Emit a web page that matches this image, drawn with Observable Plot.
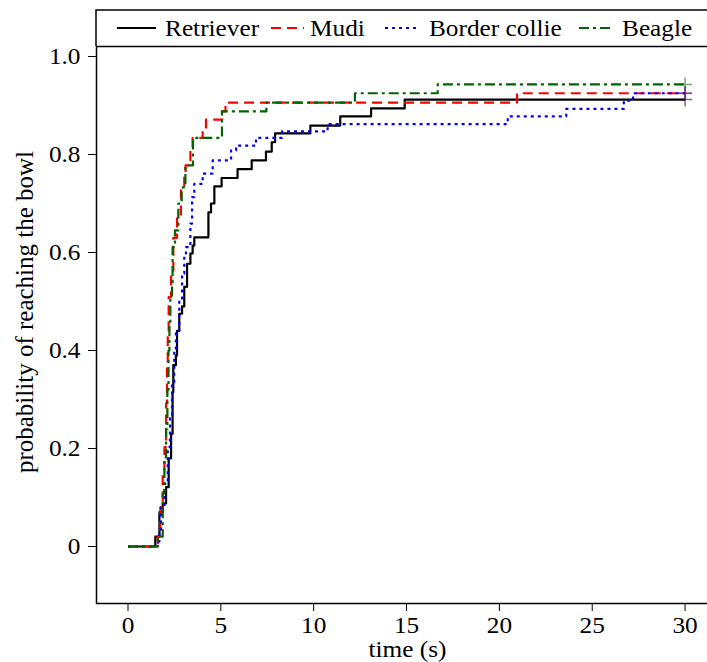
<!DOCTYPE html>
<html><head><meta charset="utf-8">
<script src="https://cdn.jsdelivr.net/npm/d3@7"></script>
<script src="https://cdn.jsdelivr.net/npm/@observablehq/plot@0.6"></script>
<style>
html,body{margin:0;padding:0;background:#fff;overflow:hidden;width:707px;height:662px;}
#wrap{position:relative;width:707px;height:662px;overflow:hidden;}
#legend{position:absolute;left:90px;top:4px;}
#chart{position:absolute;left:0;top:40px;width:707px;overflow:hidden;}
</style></head>
<body><div id="wrap"><div id="chart"></div></div>
<script>
// ---- data ----
const breeds = ["Retriever", "Mudi", "Border collie", "Beagle"];
const colors = ["#000000", "#ff0000", "#0000ff", "#006400"];
const dashes = ["none", "10,6", "3,4", "10,4,3,4"];

const xTicks = [0, 5, 10, 15, 20, 25, 30];
const xTickLabels = ["0", "5", "10", "15", "20", "25", "30"];
const yTicks = [0, 0.2, 0.4, 0.6, 0.8, 1.0];
const yTickLabels = ["0", "0.2", "0.4", "0.6", "0.8", "1.0"];

const retrieverTime = [0, 1.47, 1.69, 1.87, 2.05, 2.19, 2.32, 2.40, 2.44, 2.58, 2.64, 2.76, 2.91, 3.03, 3.18, 3.36, 3.48, 3.57, 4.33, 4.47, 4.65, 5.04, 5.90, 6.66, 7.43, 7.74, 7.92, 9.82, 11.43, 13.09, 14.90, 30];
const retrieverProb = [0, 0.020, 0.070, 0.088, 0.121, 0.180, 0.230, 0.315, 0.370, 0.390, 0.440, 0.475, 0.490, 0.530, 0.577, 0.598, 0.614, 0.631, 0.682, 0.700, 0.735, 0.752, 0.770, 0.788, 0.806, 0.825, 0.843, 0.859, 0.878, 0.894, 0.912, 0.912];

const mudiTime = [0, 1.60, 1.74, 1.87, 1.96, 2.05, 2.10, 2.14, 2.19, 2.32, 2.44, 2.64, 2.85, 3.03, 3.10, 3.36, 3.48, 4.02, 4.20, 5.06, 5.25, 20.95, 30];
const mudiProb = [0, 0.020, 0.080, 0.155, 0.203, 0.292, 0.366, 0.434, 0.509, 0.563, 0.630, 0.672, 0.727, 0.764, 0.778, 0.812, 0.834, 0.851, 0.871, 0.888, 0.906, 0.925, 0.925];

const collieTime = [0, 1.60, 1.69, 1.78, 1.96, 2.14, 2.26, 2.37, 2.49, 2.58, 2.76, 2.91, 3.03, 3.12, 3.36, 3.45, 3.57, 4.02, 4.56, 5.55, 5.82, 6.89, 8.30, 10.75, 20.45, 23.60, 26.70, 27.20, 30];
const collieProb = [0, 0.010, 0.030, 0.080, 0.128, 0.203, 0.264, 0.333, 0.400, 0.440, 0.502, 0.557, 0.598, 0.611, 0.659, 0.713, 0.740, 0.761, 0.788, 0.808, 0.818, 0.834, 0.847, 0.862, 0.878, 0.893, 0.910, 0.925, 0.925];

const beagleTime = [0, 1.60, 1.87, 1.96, 2.05, 2.12, 2.18, 2.23, 2.28, 2.37, 2.40, 2.53, 2.71, 2.89, 3.09, 3.50, 5.06, 7.45, 12.22, 16.68, 30];
const beagleProb = [0, 0.020, 0.108, 0.182, 0.240, 0.320, 0.400, 0.455, 0.510, 0.536, 0.611, 0.645, 0.700, 0.733, 0.778, 0.834, 0.888, 0.906, 0.925, 0.943, 0.943];

// ---- build tables ----
const series = [
  {name: breeds[0], time: retrieverTime, prob: retrieverProb},
  {name: breeds[1], time: mudiTime, prob: mudiProb},
  {name: breeds[2], time: collieTime, prob: collieProb},
  {name: breeds[3], time: beagleTime, prob: beagleProb}
];
const tables = series.map(s => s.time.map((t, i) => ({breed: s.name, time: t, prob: s.prob[i]})));
const lastPoints = tables.map(tb => [tb[tb.length - 1]]);

const FONT = "'Liberation Serif', serif";
const FS = 23;
const STRETCH = 1.1;

const plusSymbol = {
  draw(ctx, size) {
    const a = Math.sqrt(size / Math.PI);
    ctx.moveTo(-a, 0); ctx.lineTo(a, 0);
    ctx.moveTo(0, -a); ctx.lineTo(0, a);
  }
};

const plot = Plot.plot({
  width: 707,
  height: 622,
  marginLeft: 96,
  marginRight: -11,
  marginTop: 6,
  marginBottom: 59,
  style: {fontFamily: FONT, fontSize: FS + "px", color: "#000", background: "transparent", overflow: "hidden"},
  x: {domain: [-1.697, 31.80]},
  y: {domain: [-0.1163, 1.0204]},
  marks: [
    Plot.frame({stroke: "#000", strokeWidth: 1.5}),
    Plot.axisX({ticks: xTicks, tickSize: 8, tickPadding: 5, tickFormat: d => xTickLabels[xTicks.indexOf(d)],
      label: "time (s)", labelAnchor: "center", labelOffset: 53, labelArrow: "none", fontSize: FS, strokeWidth: 1}),
    Plot.axisY({ticks: yTicks, tickSize: 8, tickPadding: 8, tickFormat: d => yTickLabels[yTicks.indexOf(d)],
      label: "probability of reaching the bowl", labelAnchor: "center", labelOffset: 82, labelArrow: "none", fontSize: FS, strokeWidth: 1}),
    ...tables.map((tb, i) => Plot.line(tb, {x: "time", y: "prob", curve: "step-after",
      stroke: colors[i], strokeWidth: 2.2, strokeDasharray: dashes[i], strokeLinecap: "butt"})),
    ...lastPoints.map((lp, i) => Plot.dot(lp, {x: "time", y: "prob", symbol: plusSymbol, r: 7,
      fill: "none", stroke: colors[i], strokeOpacity: 0.55, strokeWidth: 1.5}))
  ]
});
document.getElementById("chart").appendChild(plot);

// ---- legend (above the svg; its bottom edge is the frame top) ----
const legendItems = [
  {sx1: 117, sx2: 156, tx: 165},
  {sx1: 271, sx2: 304, tx: 310},
  {sx1: 385, sx2: 417, tx: 429},
  {sx1: 579, sx2: 614, tx: 622}
];
const ox = 90, oy = 4;
const lg = d3.select("#wrap").append("svg").attr("id", "legend")
  .attr("width", 707 - ox).attr("height", 44)
  .style("font-family", FONT).style("font-size", FS + "px");
lg.append("path").attr("d", `M${96 - ox},${46 - oy} V${10 - oy} H${720 - ox}`)
  .attr("fill", "none").attr("stroke", "#000").attr("stroke-width", 1.5);
breeds.forEach((b, i) => {
  const it = legendItems[i];
  lg.append("line").attr("x1", it.sx1 - ox).attr("x2", it.sx2 - ox)
    .attr("y1", 28 - oy).attr("y2", 28 - oy)
    .attr("stroke", colors[i]).attr("stroke-width", 2.2)
    .attr("stroke-dasharray", dashes[i]);
  lg.append("text").attr("x", it.tx - ox).attr("y", 36 - oy).text(b).attr("fill", "#000");
});

// horizontal stretch of the text to match reference glyph proportions
function stretch(root) {
  root.querySelectorAll("text").forEach(el => {
    if (el.closest('[aria-label="y-axis label"]')) return;
    const w = el.getComputedTextLength();
    if (w > 0) {
      el.setAttribute("textLength", (w * STRETCH).toFixed(2));
      el.setAttribute("lengthAdjust", "spacingAndGlyphs");
    }
  });
}
stretch(plot);
stretch(document.getElementById("legend"));

// y-axis title: a little larger, centred where the reference has it
const yl = plot.querySelector('[aria-label="y-axis label"]');
if (yl) {
  yl.querySelectorAll("text").forEach(t => t.style.fontSize = "25px");
  const r = yl.getBoundingClientRect();
  const cx = r.left + r.width / 2, cy = r.top + r.height / 2;
  const dx = 24 - cx, dy = 312 - cy;
  const prev = yl.getAttribute("transform") || "";
  yl.setAttribute("transform", `translate(${dx.toFixed(1)},${dy.toFixed(1)}) ${prev}`);
}
</script>
</body></html>
